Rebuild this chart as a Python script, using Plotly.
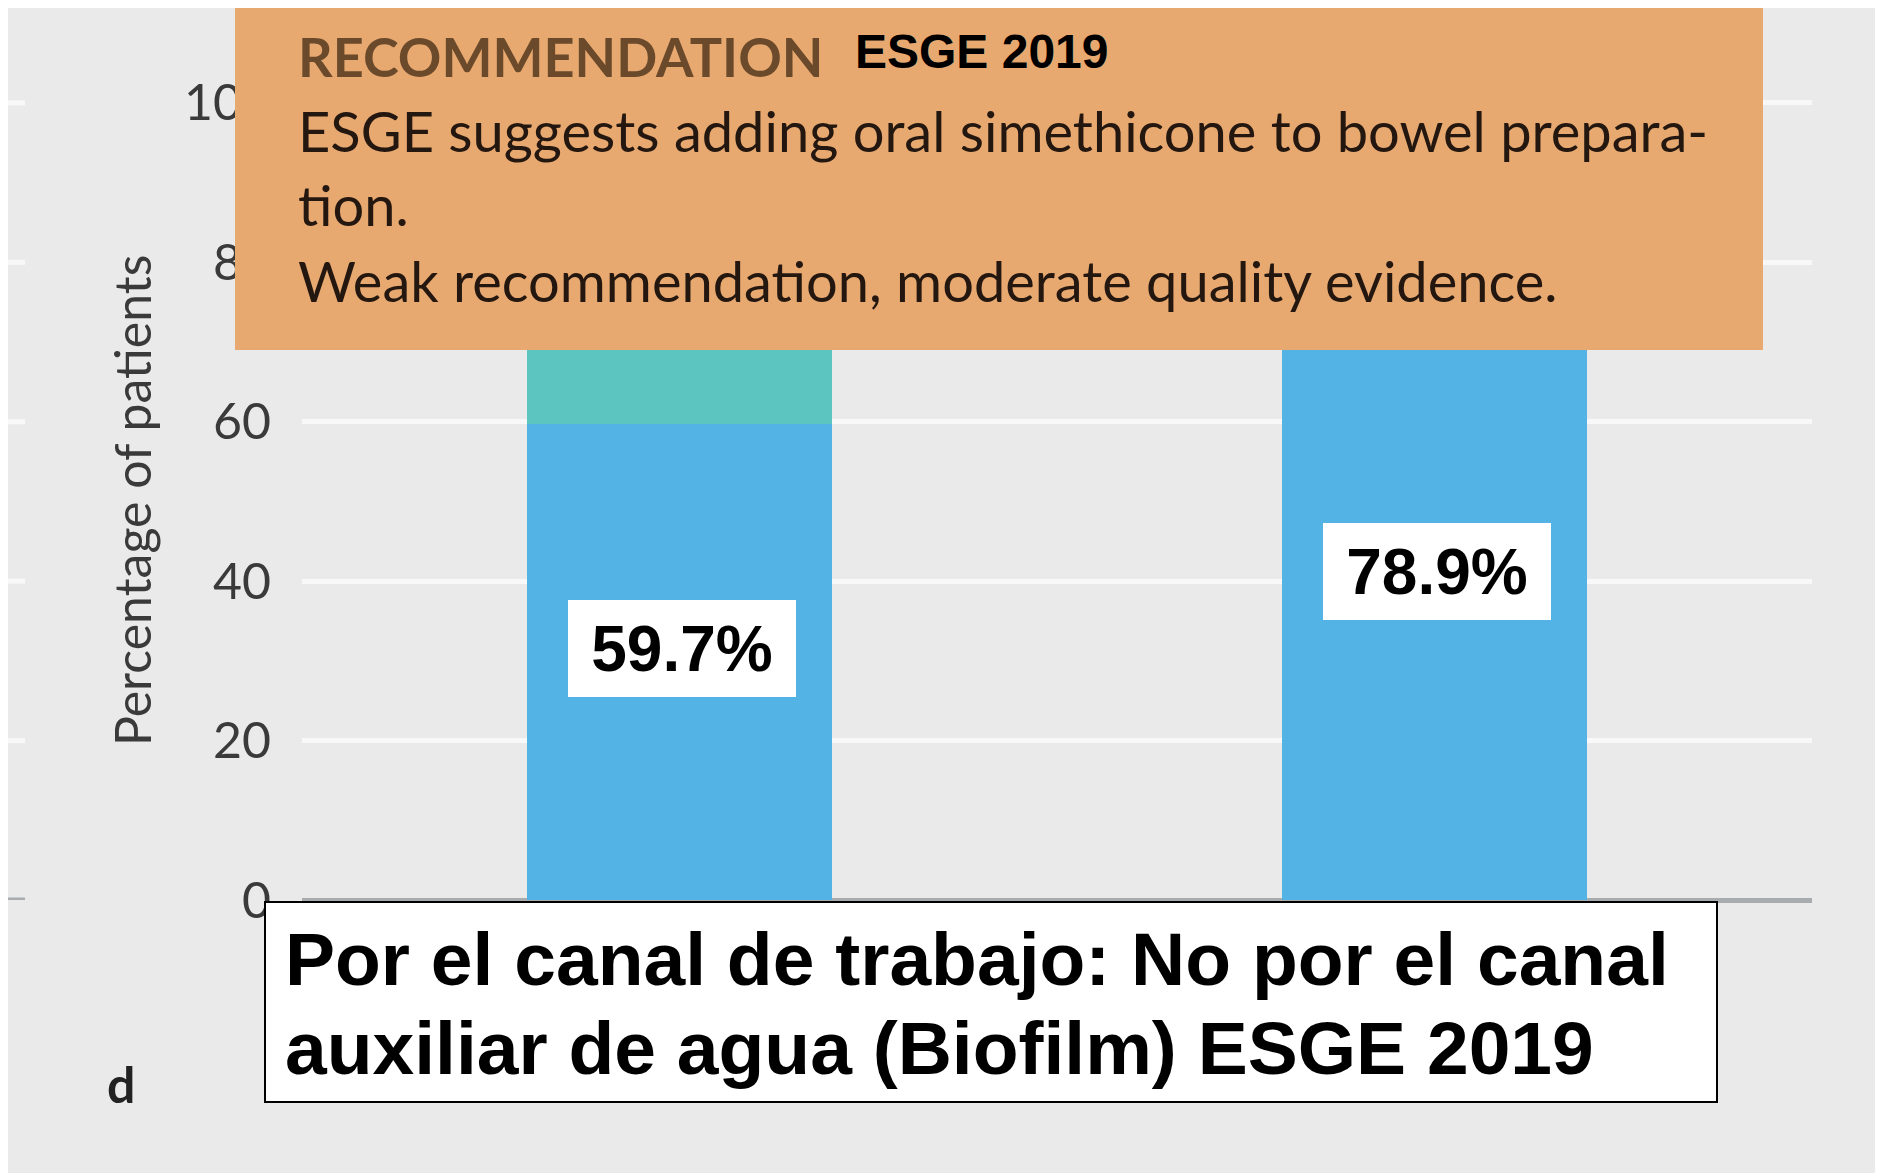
import plotly.graph_objects as go

# ---------------- data ----------------
categories = ["Grupo 1", "Grupo 2"]
adequate = [59.7, 78.9]          # blue segment (%)
other = [30.0, 15.4]             # teal segment (%), mostly hidden under the box
label_text = ["59.7%", "78.9%"]
y_ticks = [0, 20, 40, 60, 80, 100]
y_tick_text = ["0", "20", "40", "60", "80", "100"]
y_title = "Percentage of patients"
rec_heading = "RECOMMENDATION"
rec_source = "ESGE 2019"
rec_lines = [
    "ESGE suggests adding oral simethicone to bowel prepara-",
    "tion.",
    "Weak recommendation, moderate quality evidence.",
]
note_lines = [
    "Por el canal de trabajo: No por el canal",
    "auxiliar de agua (Biofilm) ESGE 2019",
]
panel_letter = "d"

# ---------------- layout geometry ----------------
OFF = 8                      # page body margin
W, H = 1883 - OFF, 1173 - OFF
ML, MR, MT, MB = 294, 71, 55, 273
PW = W - ML - MR
PH = H - MT - MB


def px(x):   # page x -> paper x
    return (x - OFF - ML) / PW


def py(y):   # page y -> paper y
    return (H - MB - (y - OFF)) / PH


BLUE = "#53B3E4"
TEAL = "#5CC5C0"
BG = "#EAEAEA"
ORANGE = "#E8A970"
AX_TXT = "#3A3A3A"

fig = go.Figure()
fig.add_trace(go.Bar(x=categories, y=adequate, marker=dict(color=BLUE, line=dict(width=0)),
                     showlegend=False, hoverinfo="skip"))
fig.add_trace(go.Bar(x=categories, y=other, marker=dict(color=TEAL, line=dict(width=0)),
                     showlegend=False, hoverinfo="skip"))

shapes = []
# remnants of neighbouring panel grid at the left edge
for v in y_ticks:
    shapes.append(dict(type="line", xref="paper", yref="y", layer="below",
                       x0=px(8), x1=px(25), y0=v, y1=v,
                       line=dict(color="#A9ACAF" if v == 0 else "#F8F8F8", width=5)))
# orange recommendation box
shapes.append(dict(type="rect", xref="paper", yref="paper", layer="above",
                   x0=px(235), x1=px(1763), y0=py(350), y1=py(4),
                   fillcolor=ORANGE, line=dict(width=0)))
# white note box
shapes.append(dict(type="rect", xref="paper", yref="paper", layer="above",
                   x0=px(265), x1=px(1717), y0=py(1102), y1=py(902),
                   fillcolor="white", line=dict(color="black", width=2)))

annotations = []
# value labels on bars
for c, v, t in zip(categories, adequate, label_text):
    annotations.append(dict(x=c, y=v / 2, xref="x", yref="y", text=t, showarrow=False,
                            bgcolor="white", width=228, height=97, borderpad=0, borderwidth=0,
                            yshift=14, xshift=2,
                            font=dict(family="Liberation Sans, Arial", size=64, color="black",
                                      weight="bold")))
# y axis title
annotations.append(dict(x=px(132), y=py(501), xref="paper", yref="paper", text=y_title,
                        textangle=-90, showarrow=False, xanchor="center", yanchor="middle",
                        font=dict(family="Lato", size=50, color=AX_TXT)))
# recommendation heading
annotations.append(dict(x=px(298), y=py(56), xref="paper", yref="paper",
                        text=rec_heading, showarrow=False, xanchor="left", yanchor="middle",
                        borderpad=0, borderwidth=0,
                        font=dict(family="Lato", size=54, color="#6B4A2B", weight="bold")))
annotations.append(dict(x=px(855), y=py(51), xref="paper", yref="paper",
                        text=rec_source, showarrow=False, xanchor="left", yanchor="middle",
                        borderpad=0, borderwidth=0,
                        font=dict(family="Liberation Sans Narrow, Liberation Sans, Arial",
                                  size=48, color="black", weight="bold")))
for line, yc in zip(rec_lines, [130, 204, 280]):
    annotations.append(dict(x=px(298), y=py(yc), xref="paper", yref="paper",
                            text=line, showarrow=False, xanchor="left", yanchor="middle",
                            borderpad=0, borderwidth=0,
                            font=dict(family="Lato", size=56, color="#231710")))
for line, yc in zip(note_lines, [959, 1048]):
    annotations.append(dict(x=px(285), y=py(yc), xref="paper", yref="paper",
                            text=line, showarrow=False, xanchor="left", yanchor="middle",
                            borderpad=0, borderwidth=0,
                            font=dict(family="Liberation Sans, Arial", size=75, color="black",
                                      weight="bold")))
annotations.append(dict(x=px(121), y=py(1084), xref="paper", yref="paper",
                        text=panel_letter, showarrow=False, xanchor="center", yanchor="middle",
                        font=dict(family="Lato", size=50, color="#222222", weight="bold")))

fig.update_layout(
    width=W, height=H,
    margin=dict(l=ML, r=MR, t=MT, b=MB, pad=0),
    paper_bgcolor=BG, plot_bgcolor=BG,
    barmode="stack", bargap=0.595,
    shapes=shapes, annotations=annotations,
    xaxis=dict(showticklabels=False, showgrid=False, zeroline=False, showline=False,
               ticks="", range=[-0.5, 1.5]),
    yaxis=dict(range=[0, 105], tickvals=y_ticks, ticktext=y_tick_text,
               showgrid=True, gridcolor="#F8F8F8", gridwidth=5,
               zeroline=True, zerolinecolor="#A9ACAF", zerolinewidth=5,
               showline=False, ticks="", ticklabelstandoff=30,
               tickfont=dict(family="Lato", size=50, color=AX_TXT)),
    font=dict(family="Lato"),
)

fig.write_html("out.html")
